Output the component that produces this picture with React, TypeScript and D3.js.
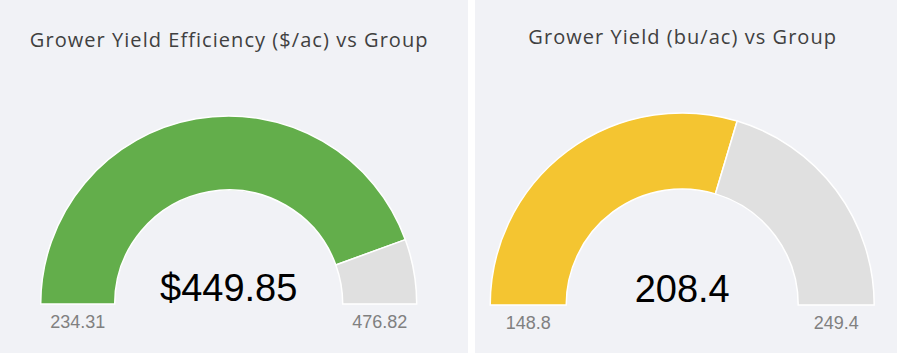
import React from "react";
import * as d3 from "d3";

const titles = ["Grower Yield Efficiency ($/ac) vs Group", "Grower Yield (bu/ac) vs Group"];
const values = [449.85, 208.4];
const minValues = [234.31, 148.8];
const maxValues = [476.82, 249.4];
const valueLabels = ["$449.85", "208.4"];
const minLabels = ["234.31", "148.8"];
const maxLabels = ["476.82", "249.4"];
const fillColors = ["#63ae4b", "#f4c531"];

const W = 897;
const H = 354;

const panels = [
  { x: 0, w: 468, cx: 228.7, cy: 304, ro: 188, ri: 114, titleY: 47 },
  { x: 475, w: 422, cx: 682.2, cy: 305, ro: 192, ri: 116, titleY: 43.5 },
];

export default function App() {
  return (
    <div style={{ position: "fixed", left: 0, top: 0, width: W, height: H, background: "#ffffff" }}>
      <svg width={W} height={H} style={{ display: "block" }}>
        {panels.map((p, i) => {
          const scale = d3.scaleLinear().domain([minValues[i], maxValues[i]]).range([-Math.PI / 2, Math.PI / 2]);
          const arc = d3.arc<any>().innerRadius(p.ri).outerRadius(p.ro);
          const a = scale(values[i]);
          const filled = arc({ startAngle: -Math.PI / 2, endAngle: a }) || "";
          const rest = arc({ startAngle: a, endAngle: Math.PI / 2 }) || "";
          const labelY = p.cy + 24;
          const mid = (p.ro + p.ri) / 2;
          return (
            <g key={i}>
              <rect x={p.x} y={0} width={p.w} height={353} fill="#f1f2f6" />
              <text x={p.cx + 0.5} y={p.titleY} textAnchor="middle" fontFamily="'Open Sans', sans-serif" fontSize={20} letterSpacing={1.05} fill="#404040">
                {titles[i]}
              </text>
              <g transform={`translate(${p.cx},${p.cy})`}>
                <path d={filled} fill={fillColors[i]} stroke="#ffffff" strokeWidth={1.5} />
                <path d={rest} fill="#e0e0e0" stroke="#ffffff" strokeWidth={1.5} />
              </g>
              <text x={p.cx} y={p.cy - 3} textAnchor="middle" fontFamily="'Liberation Sans', Arial, sans-serif" fontSize={38} fill="#000000">
                {valueLabels[i]}
              </text>
              <text x={p.cx - mid} y={labelY} textAnchor="middle" fontFamily="'Liberation Sans', Arial, sans-serif" fontSize={18} fill="#808080">
                {minLabels[i]}
              </text>
              <text x={p.cx + mid} y={labelY} textAnchor="middle" fontFamily="'Liberation Sans', Arial, sans-serif" fontSize={18} fill="#808080">
                {maxLabels[i]}
              </text>
            </g>
          );
        })}
      </svg>
    </div>
  );
}
